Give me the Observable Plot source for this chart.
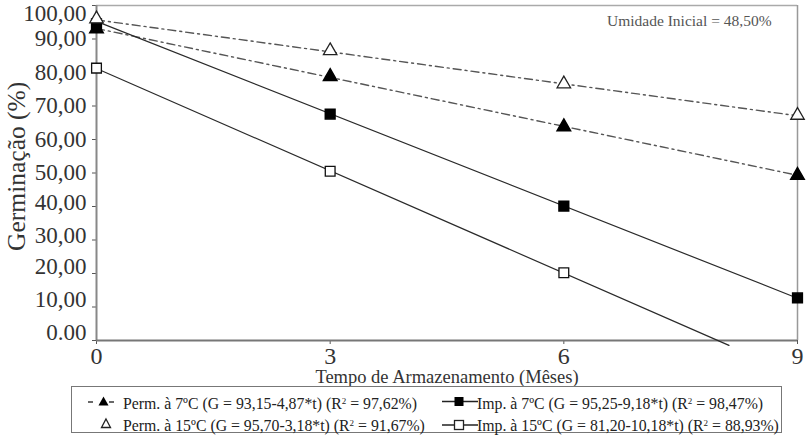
<!DOCTYPE html>
<html>
<head>
<meta charset="utf-8">
<script src="https://cdn.jsdelivr.net/npm/d3@7"></script>
<script src="https://cdn.jsdelivr.net/npm/@observablehq/plot@0.6"></script>
<style>
  body { margin: 0; background: #fff; }
  #wrap { position: relative; width: 811px; height: 436px; }
  #wrap, #wrap div, #wrap span, #wrap svg, #wrap text { font-family: 'Liberation Serif', 'Times New Roman', serif !important; }
  #legend { position: absolute; left: 71px; top: 386px; width: 711px; height: 47px; border: 1.5px solid #777; box-sizing: border-box; font-size: 15.8px; color: #222; }
  .item { position: absolute; white-space: nowrap; line-height: 18px; height: 18px; }
  .item svg { position: absolute; top: 0; }
  #note { position: absolute; left: 607px; top: 12px; font-size: 15.5px; color: #555; white-space: nowrap; }
</style>
</head>
<body>
<div id="wrap"></div>
<script>
// Data
const months = [0, 3, 6, 9];
const perm7 = [93, 78.8, 63.8, 49.3];
const perm15 = [96, 86.5, 76.6, 67.2];
const imp7 = [94.5, 67.6, 40.1, 12.7];
const imp15 = [81.3, 50.5, 20.2];
const seriesNames = ["Perm. à 7ºC", "Perm. à 15ºC", "Imp. à 7ºC", "Imp. à 15ºC"];
const fitIntercept = [93.15, 95.70, 95.25, 81.20];
const fitSlope = [-4.87, -3.18, -9.18, -10.18];
const fitEnd = [9, 9, 9, 8.12];
const yTicks = [0, 10, 20, 30, 40, 50, 60, 70, 80, 90, 100];
const yTickLabels = ["0.00", "10,00", "20,00", "30,00", "40,00", "50,00", "60,00", "70,00", "80,00", "90,00", "100,00"];
const xTicks = [0, 3, 6, 9];
const legendLabels = [
  "Perm. à 7ºC (G = 93,15-4,87*t) (R² = 97,62%)",
  "Perm. à 15ºC (G = 95,70-3,18*t) (R² = 91,67%)",
  "Imp. à 7ºC (G = 95,25-9,18*t) (R² = 98,47%)",
  "Imp. à 15ºC (G = 81,20-10,18*t) (R² = 88,93%)"
];
const noteText = "Umidade Inicial = 48,50%";
const yTitle = "Germinação (%)";
const xTitle = "Tempo de Armazenamento (Mêses)";

const seriesVals = [perm7, perm15, imp7, imp15];
const points = [];
seriesVals.forEach((vals, s) => vals.forEach((v, i) => points.push({s: seriesNames[s], t: months[i], G: v})));
const fits = seriesNames.map((name, s) => [
  {s: name, t: 0, G: fitIntercept[s]},
  {s: name, t: fitEnd[s], G: fitIntercept[s] + fitSlope[s] * fitEnd[s]}
]);

const dash = "8,4,2,4";
const serif = "'Liberation Serif', serif";
const lab = (d) => yTickLabels[yTicks.indexOf(d)];
const yLabelText = (vals, dy) => Plot.text(vals, {x: 0, y: d => d, text: lab, textAnchor: "end", dx: -10, dy, fontSize: 23, fill: "#333"});

const chart = Plot.plot({
  width: 811,
  height: 392,
  marginLeft: 96,
  marginRight: 14,
  marginTop: 5,
  marginBottom: 52,
  style: {fontFamily: serif, color: "#333", background: "#fff", overflow: "visible"},
  x: {domain: [0, 9]},
  y: {domain: [0, 100]},
  marks: [
    Plot.ruleY([100], {stroke: "#aaa", strokeWidth: 1.5}),
    Plot.ruleX([9], {stroke: "#999", strokeWidth: 1.5}),
    Plot.axisY({ticks: yTicks, tickFormat: () => "", tickSize: 4, label: null, stroke: "#555"}),
    yLabelText([100], 8),
    yLabelText([50, 60, 70, 80, 90], 0),
    yLabelText([30, 40], -4),
    yLabelText([10, 20], -7),
    yLabelText([0], -8),
    Plot.axisX({ticks: xTicks, tickFormat: (d) => String(d), fontSize: 24, tickSize: 4, tickPadding: 2, label: null, stroke: "#555", fill: "#333"}),
    Plot.ruleX([0], {stroke: "#888", strokeWidth: 2}),
    Plot.ruleY([0], {stroke: "#777", strokeWidth: 2}),
    Plot.line(fits[0], {x: "t", y: "G", stroke: "#555", strokeWidth: 1.4, strokeDasharray: dash}),
    Plot.line(fits[1], {x: "t", y: "G", stroke: "#555", strokeWidth: 1.4, strokeDasharray: dash}),
    Plot.line(fits[2], {x: "t", y: "G", stroke: "#2a2a2a", strokeWidth: 1.2}),
    Plot.line(fits[3], {x: "t", y: "G", stroke: "#2a2a2a", strokeWidth: 1.2}),
    Plot.dot(points.filter(d => d.s === seriesNames[3]), {x: "t", y: "G", symbol: "square", r: 5.5, fill: "#fff", stroke: "#111", strokeWidth: 1.3}),
    Plot.dot(points.filter(d => d.s === seriesNames[2]), {x: "t", y: "G", symbol: "square", r: 5.5, fill: "#000", stroke: "#000"}),
    Plot.dot(points.filter(d => d.s === seriesNames[0]), {x: "t", y: "G", symbol: "triangle", r: 5, fill: "#000", stroke: "#000"}),
    Plot.dot(points.filter(d => d.s === seriesNames[1]), {x: "t", y: "G", symbol: "triangle", r: 5, fill: "#fff", stroke: "#222", strokeWidth: 1.3}),
    Plot.text([yTitle], {frameAnchor: "left", textAnchor: "middle", x: 0, y: 52, dx: -80, rotate: -90, fontSize: 25.5, fill: "#333", text: d => d}),
    Plot.text([xTitle], {x: 4.5, y: 0, dy: 37, fontSize: 18.5, fill: "#333", text: d => d})
  ]
});

chart.querySelectorAll("text").forEach(t => { t.style.fontFamily = serif; });

const wrap = document.getElementById("wrap");
wrap.appendChild(chart);

const note = document.createElement("div");
note.id = "note";
note.textContent = noteText;
note.style.fontFamily = serif;
wrap.appendChild(note);

const legend = document.createElement("div");
legend.id = "legend";
legend.style.fontFamily = serif;
wrap.appendChild(legend);

function sym(kind) {
  const ns = "http://www.w3.org/2000/svg";
  const svg = document.createElementNS(ns, "svg");
  svg.setAttribute("width", 36);
  svg.setAttribute("height", 18);
  let html = "";
  if (kind === 0) {
    html = `<line x1="0" y1="10" x2="5" y2="10" stroke="#444" stroke-width="1.6"/><line x1="21" y1="10" x2="26" y2="10" stroke="#444" stroke-width="1.6"/><path d="M15.5,4.5 L20.5,13.5 L10.5,13.5 Z" fill="#000"/>`;
  } else if (kind === 1) {
    html = `<path d="M18,5 L22.5,13.5 L13.5,13.5 Z" fill="#fff" stroke="#222" stroke-width="1.3"/>`;
  } else if (kind === 2) {
    html = `<line x1="0" y1="9.5" x2="36" y2="9.5" stroke="#222" stroke-width="1.4"/><rect x="12.5" y="5" width="9" height="9" fill="#000"/>`;
  } else {
    html = `<line x1="0" y1="11" x2="36" y2="11" stroke="#222" stroke-width="1.4"/><rect x="12.5" y="6.5" width="9" height="9" fill="#fff" stroke="#222" stroke-width="1.3"/>`;
  }
  svg.innerHTML = html;
  return svg;
}

// positions relative to legend box (box left = 71, top = 386)
const pos = [
  {left: 16, top: 5, textLeft: 35},
  {left: 16, top: 27, textLeft: 35},
  {left: 370, top: 5, textLeft: 35},
  {left: 370, top: 27, textLeft: 35}
];
legendLabels.forEach((labTxt, i) => {
  const it = document.createElement("div");
  it.className = "item";
  it.style.left = pos[i].left + "px";
  it.style.top = pos[i].top + "px";
  const s = sym(i);
  s.style.left = "0px";
  it.appendChild(s);
  const sp = document.createElement("span");
  sp.style.position = "absolute";
  sp.style.left = pos[i].textLeft + "px";
  sp.style.fontFamily = serif;
  sp.innerHTML = labTxt.replace("R²", "R<sup style='font-size:9px;vertical-align:5px'>2</sup>");
  it.appendChild(sp);
  legend.appendChild(it);
});
</script>
</body>
</html>
